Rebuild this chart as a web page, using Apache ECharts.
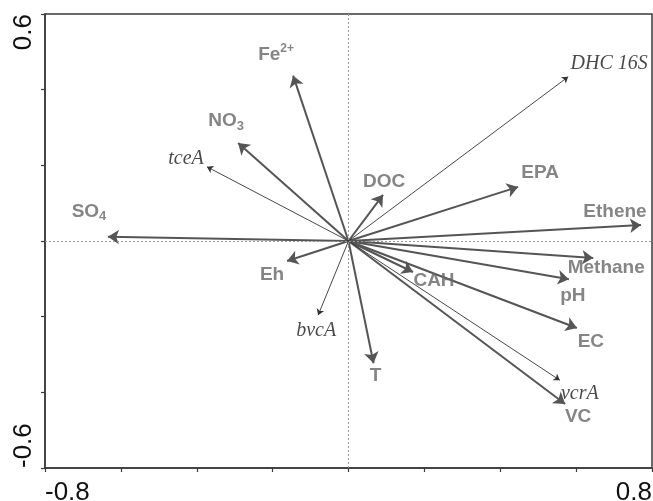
<!DOCTYPE html>
<html>
<head>
<meta charset="utf-8">
<script src="https://cdn.jsdelivr.net/npm/echarts@6/dist/echarts.min.js"></script>
<style>html,body{margin:0;padding:0;background:#fff}#c{width:653px;height:501px}</style>
</head>
<body>
<div id="c"></div>
<script>
// Environmental variables (bold arrows)
const envNames = ['SO4', 'NO3', 'Fe2+', 'DOC', 'EPA', 'Ethene', 'Methane', 'pH', 'CAH', 'EC', 'VC', 'T', 'Eh'];
const envX = [-0.634, -0.291, -0.146, 0.091, 0.447, 0.771, 0.645, 0.581, 0.170, 0.602, 0.571, 0.066, -0.162];
const envY = [0.011, 0.259, 0.437, 0.122, 0.143, 0.042, -0.045, -0.101, -0.082, -0.230, -0.431, -0.323, -0.053];
// Gene variables (thin arrows)
const geneNames = ['tceA', 'DHC 16S', 'vcrA', 'bvcA'];
const geneX = [-0.373, 0.579, 0.557, -0.080];
const geneY = [0.196, 0.434, -0.368, -0.196];
// Axis
const axisXMin = -0.8, axisXMax = 0.8, axisYMin = -0.6, axisYMax = 0.6, tickStep = 0.2;

// label offsets in pixels (layout only)
const envOffsets = [[-19,-25],[-12,-22],[-17,-21],[1,-13],[22,-14],[-26,-13],[13,10],[4,17],[21,9],[14,14],[13,13],[2,13],[-15,14]];
const geneOffsets = [[-21,-8],[41,-13],[20,14],[-2,16]];

const richLabel = {
  b: {fontFamily: 'Liberation Sans, Arial', fontWeight: 'bold', fontSize: 19, color: '#666', lineHeight: 23},
  sub: {fontFamily: 'Liberation Sans, Arial', fontWeight: 'bold', fontSize: 13, color: '#666', lineHeight: 12, verticalAlign: 'bottom'},
  sup: {fontFamily: 'Liberation Sans, Arial', fontWeight: 'bold', fontSize: 12, color: '#666', lineHeight: 11, verticalAlign: 'top'}
};
function fmtEnv(name) {
  if (name === 'SO4') return '{b|SO}{sub|4}';
  if (name === 'NO3') return '{b|NO}{sub|3}';
  if (name === 'Fe2+') return '{b|Fe}{sup|2+}';
  return '{b|' + name + '}';
}

const envLines = envNames.map((n, i) => ({coords: [[0, 0], [envX[i], envY[i]]]}));
const geneLines = geneNames.map((n, i) => ({coords: [[0, 0], [geneX[i], geneY[i]]]}));

const envLabels = envNames.map((n, i) => ({
  value: [envX[i], envY[i]], name: n,
  label: {offset: envOffsets[i]}
}));
const geneLabels = geneNames.map((n, i) => ({
  value: [geneX[i], geneY[i]], name: n,
  label: {offset: geneOffsets[i]}
}));

const chart = echarts.init(document.getElementById('c'), null, {renderer: 'canvas'});
const near = (a, b) => Math.abs(a - b) < 1e-6;
chart.setOption({
  animation: false,
  backgroundColor: '#fff',
  grid: {left: 45, right: 1, top: 14, bottom: 33, show: true, borderColor: '#3a3a3a', borderWidth: 1.5,
    containLabel: false, outerBoundsMode: 'none'},
  xAxis: {
    type: 'value', min: axisXMin, max: axisXMax, interval: tickStep,
    axisLine: {onZero: false, lineStyle: {color: '#3a3a3a', width: 1.5}},
    axisTick: {show: true, length: 4, lineStyle: {color: '#3a3a3a', width: 1.2}},
    splitLine: {show: false},
    axisLabel: {
      showMinLabel: true, showMaxLabel: true, hideOverlap: false,
      alignMinLabel: 'left', alignMaxLabel: 'right',
      margin: 12, fontFamily: 'Liberation Sans, Arial', fontSize: 26, color: '#111',
      formatter: v => (near(v, axisXMin) || near(v, axisXMax)) ? v.toFixed(1) : ''
    }
  },
  yAxis: {
    type: 'value', min: axisYMin, max: axisYMax, interval: tickStep,
    axisLine: {show: true, onZero: false, lineStyle: {color: '#3a3a3a', width: 1.5}},
    axisTick: {show: true, length: 4, lineStyle: {color: '#3a3a3a', width: 1.2}},
    splitLine: {show: false},
    axisLabel: {
      rotate: 90, showMinLabel: true, showMaxLabel: true, hideOverlap: false,
      alignMinLabel: 'left', alignMaxLabel: 'right',
      margin: 8, fontFamily: 'Liberation Sans, Arial', fontSize: 26, color: '#111',
      formatter: v => (near(v, axisYMin) || near(v, axisYMax)) ? v.toFixed(1) : ''
    }
  },
  series: [
    {
      type: 'scatter', data: [], silent: true,
      markLine: {
        silent: true, symbol: ['none', 'none'], label: {show: false},
        lineStyle: {color: '#9a9a9a', type: [2, 2], width: 1},
        data: [{xAxis: 0}, {yAxis: 0}]
      }
    },
    {
      type: 'lines', coordinateSystem: 'cartesian2d', silent: true,
      symbol: ['none', 'arrow'], symbolSize: 11,
      lineStyle: {color: '#555', width: 2, opacity: 1, curveness: 0},
      data: envLines, z: 3
    },
    {
      type: 'lines', coordinateSystem: 'cartesian2d', silent: true,
      symbol: ['none', 'arrow'], symbolSize: 6,
      lineStyle: {color: '#333', width: 0.9, opacity: 1, curveness: 0},
      data: geneLines, z: 3
    },
    {
      type: 'scatter', symbolSize: 0, silent: true, z: 4,
      data: envLabels,
      label: {show: true, position: 'inside', align: 'center', verticalAlign: 'middle',
        formatter: p => fmtEnv(p.name), rich: richLabel}
    },
    {
      type: 'scatter', symbolSize: 0, silent: true, z: 4,
      data: geneLabels,
      label: {show: true, position: 'inside', align: 'center', verticalAlign: 'middle',
        fontFamily: 'Liberation Serif, Times New Roman', fontStyle: 'italic', fontSize: 20, color: '#1a1a1a',
        formatter: p => p.name}
    }
  ]
});
</script>
</body>
</html>
